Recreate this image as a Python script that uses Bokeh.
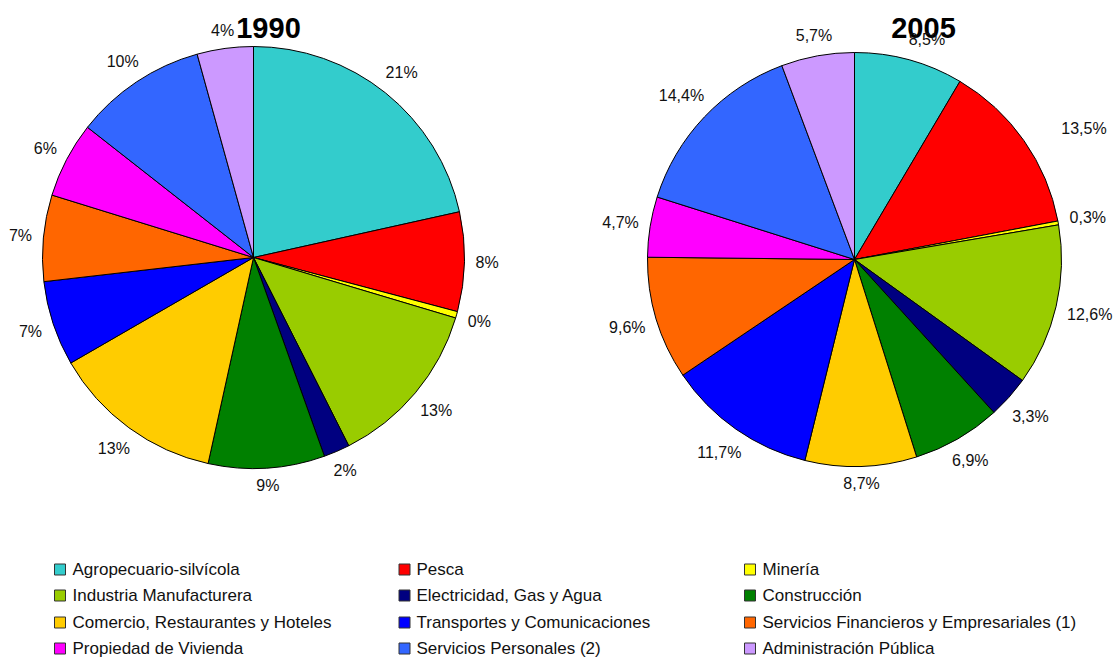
import math
from bokeh.plotting import figure
from bokeh.models import Range1d, ColumnDataSource
from bokeh.embed import file_html
from bokeh.resources import INLINE
from bokeh.core.properties import value

# ---------------- data ----------------
categories = [
    "Agropecuario-silvícola", "Pesca", "Minería",
    "Industria Manufacturera", "Electricidad, Gas y Agua", "Construcción",
    "Comercio, Restaurantes y Hoteles", "Transportes y Comunicaciones",
    "Servicios Financieros y Empresariales (1)",
    "Propiedad de Vivienda", "Servicios Personales (2)", "Administración Pública",
]
colors = ["#33CCCC", "#FF0000", "#FFFF00", "#99CC00", "#000080", "#008000",
          "#FFCC00", "#0000FF", "#FF6600", "#FF00FF", "#3366FF", "#CC99FF"]
years = ["1990", "2005"]
share_1990 = [21.5, 7.6, 0.5, 12.9, 2.0, 8.9, 13.2, 6.5, 6.6, 5.8, 10.1, 4.3]
labels_1990 = ["21%", "8%", "0%", "13%", "2%", "9%", "13%", "7%", "7%", "6%", "10%", "4%"]
share_2005 = [8.5, 13.5, 0.3, 12.6, 3.3, 6.9, 8.7, 11.7, 9.6, 4.7, 14.4, 5.7]
labels_2005 = [f"{v:.1f}".replace(".", ",") + "%" for v in share_2005]

# ---------------- layout / style ----------------
W, H = 1113, 658
FONT = value("Liberation Sans")
FS = 16
LEG_FS = 17
GAP = 11


def sy(y_screen):
    """screen y (picture pixels, from top) -> data y"""
    return H - y_screen


def sx(x_screen):
    return x_screen


CW = {d: 0.556 for d in "0123456789"}
CW.update({",": 0.278, "%": 0.889})


def text_w(s, fs):
    return sum(CW.get(c, 0.556) for c in s) * fs


p = figure(width=W, height=H, x_range=Range1d(0, W), y_range=Range1d(0, H),
           output_backend="svg", toolbar_location=None, min_border=0,
           x_axis_type=None, y_axis_type=None)
p.grid.visible = False
p.outline_line_color = None
p.background_fill_color = "white"
p.border_fill_color = "white"


def add_pie(cx, cy, r, shares, labels, nudges=None):
    nudges = nudges or {}
    total = sum(shares)
    cum = 0.0
    starts, ends, lx, ly = [], [], [], []
    for i, (v, lab) in enumerate(zip(shares, labels)):
        a0 = cum / total * 2 * math.pi
        cum += v
        a1 = cum / total * 2 * math.pi
        starts.append(math.pi / 2 - a1)
        ends.append(math.pi / 2 - a0)
        mid = (a0 + a1) / 2
        s, c = math.sin(mid), math.cos(mid)
        w = text_w(lab, FS)
        R = r + GAP + abs(s) * w / 2 + abs(c) * 12 / 2
        dx, dy = nudges.get(i, (0, 0))
        lx.append(cx + R * s + dx)
        ly.append(cy + R * c + dy)
    src = ColumnDataSource(dict(start=starts, end=ends, color=colors,
                                x=lx, y=ly, text=labels))
    p.wedge(x=cx, y=cy, radius=r, start_angle="start", end_angle="end",
            direction="anticlock", fill_color="color", line_color="black",
            line_width=1, source=src)
    return src


src90 = add_pie(sx(253), sy(257), 211, share_1990, labels_1990)
src05 = add_pie(sx(854), sy(259), 207, share_2005, labels_2005,
                nudges={0: (12, 0), 1: (33, -7)})

# titles
p.text(x=[sx(268), sx(923)], y=[sy(27), sy(27)], text=years,
       text_align="center", text_baseline="middle", text_font=FONT,
       text_font_size="29px", text_font_style="bold", text_color="black")

for src in (src90, src05):
    p.text(x="x", y="y", text="text", source=src, text_align="center",
           text_baseline="middle", text_font=FONT, text_font_size=f"{FS}px",
           text_color="#111111")

# legend
col_sq = [59.5, 404, 749.5]
col_tx = [72, 416, 762]
row_y = [569, 595, 622, 648]
lg = ColumnDataSource(dict(
    sqx=[sx(col_sq[i % 3]) for i in range(len(categories))],
    tx=[sx(col_tx[i % 3]) for i in range(len(categories))],
    y=[sy(row_y[i // 3]) for i in range(len(categories))],
    color=colors, text=categories))
p.rect(x="sqx", y="y", width=11, height=11, fill_color="color",
       line_color="#333333", line_width=1, source=lg)
p.text(x="tx", y="y", text="text", source=lg, text_align="left",
       text_baseline="middle", text_font=FONT, text_font_size=f"{LEG_FS}px",
       text_color="#111111")

open("out.html", "w").write(file_html(p, INLINE))
